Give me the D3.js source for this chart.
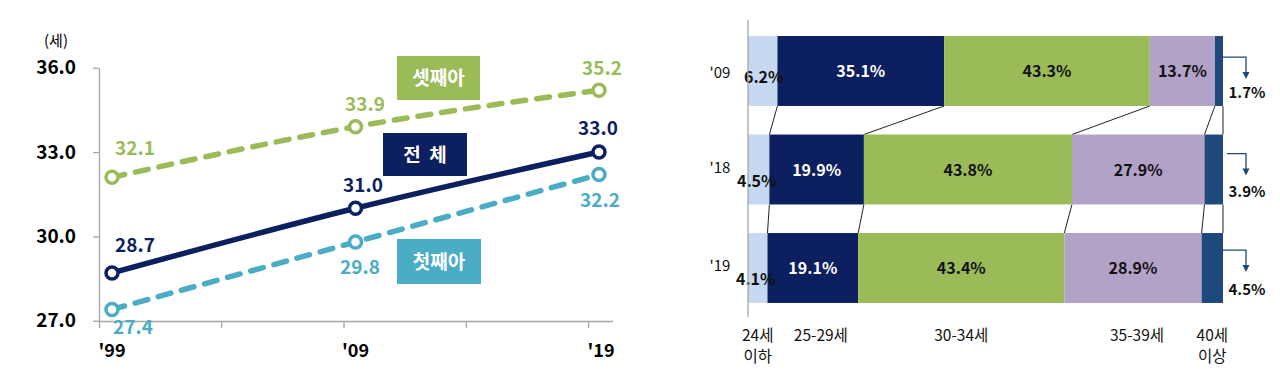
<!DOCTYPE html>
<html><head><meta charset="utf-8">
<script src="https://cdn.jsdelivr.net/npm/d3@7"></script>
<style>
body{margin:0;background:#fff;}
svg{display:block;font-family:"Noto Sans CJK KR","Noto Sans",sans-serif;}
</style></head>
<body>
<svg id="c" width="1280" height="385"></svg>
<script>
// ---- Left chart data ----
const years = [1999, 2009, 2019];
const yearLabels = ["'99", "'09", "'19"];
const totalAge = [28.7, 31.0, 33.0];
const firstAge = [27.4, 29.8, 32.2];
const thirdAge = [32.1, 33.9, 35.2];
const yTicks = [27, 30, 33, 36];
const seriesNames = ["전 체", "첫째아", "셋째아"];

// ---- Right chart data ----
const barYears = ["'09", "'18", "'19"];
const ageGroups = ["24세\n이하", "25-29세", "30-34세", "35-39세", "40세\n이상"];
const share09 = [6.2, 35.1, 43.3, 13.7, 1.7];
const share18 = [4.5, 19.9, 43.8, 27.9, 3.9];
const share19 = [4.1, 19.1, 43.4, 28.9, 4.5];

const svg = d3.select("#c");
const NAVY = "#0c1f5e", GREEN = "#9bbb59", CYAN = "#4bacc6";

// ================= LEFT =================
const x = d3.scaleLinear().domain([1999, 2019]).range([112, 599]);
const xTick = d3.scaleLinear().domain([0, 4.2]).range([99, 612.5]);
const y = d3.scaleLinear().domain([27, 36]).range([320.7, 67.7]);

const gy = svg.append("g").attr("transform", "translate(99,0)")
  .call(d3.axisLeft(y).tickValues(yTicks).tickFormat(d3.format(".1f")).tickSize(6).tickSizeOuter(0).tickPadding(17));
gy.select(".domain").attr("stroke", "#a6a6a6").attr("stroke-width", 1.3);
gy.selectAll(".tick line").attr("stroke", "#a6a6a6").attr("stroke-width", 1.3);
gy.selectAll(".tick text").attr("font-size", 19).attr("font-weight", "bold").attr("fill", "#000")
  .attr("font-family", '"Noto Sans CJK KR",sans-serif');

const gx = svg.append("g").attr("transform", "translate(0,321)")
  .call(d3.axisBottom(xTick).tickValues([0, 1, 2, 3, 4]).tickFormat("").tickSize(7).tickSizeOuter(0));
gx.select(".domain").attr("stroke", "#a6a6a6").attr("stroke-width", 1.3);
gx.selectAll(".tick line").attr("stroke", "#a6a6a6").attr("stroke-width", 1.3);

svg.append("g").selectAll("text").data(years).join("text")
  .attr("x", (d, i) => x(d) + (i === 2 ? 2 : 0)).attr("y", 357)
  .attr("text-anchor", "middle").attr("font-size", 18).attr("font-weight", "bold")
  .text((d, i) => yearLabels[i]);

svg.append("text").attr("x", 56).attr("y", 46).attr("text-anchor", "middle")
  .attr("font-size", 15).text("(세)");

const series = [
  {vals: thirdAge, color: GREEN, dash: "13,11", lab: [[135, 155], [365, 111], [602, 75]]},
  {vals: firstAge, color: CYAN, dash: "13,11", lab: [[133, 334], [360, 274], [600, 207]]},
  {vals: totalAge, color: NAVY, dash: null, lab: [[135, 252], [363, 192], [598, 135]]}
];
const line = d3.line().x(d => x(d[0])).y(d => y(d[1])).curve(d3.curveMonotoneX);
series.forEach(s => {
  const pts = years.map((yr, i) => [yr, s.vals[i]]);
  svg.append("path").attr("d", line(pts)).attr("fill", "none")
    .attr("stroke", s.color).attr("stroke-width", 5.5).attr("stroke-linecap", s.dash ? "round" : "butt")
    .attr("stroke-dasharray", s.dash);
  svg.append("g").selectAll("circle").data(pts).join("circle")
    .attr("cx", d => x(d[0])).attr("cy", d => y(d[1])).attr("r", 6)
    .attr("fill", "#fff").attr("stroke", s.color).attr("stroke-width", 3.5);
  svg.append("g").selectAll("text").data(s.vals).join("text")
    .attr("x", (d, i) => s.lab[i][0]).attr("y", (d, i) => s.lab[i][1])
    .attr("text-anchor", "middle").attr("font-size", 19).attr("font-weight", "bold")
    .attr("fill", s.color).text(d => d.toFixed(1));
});

// label boxes
const boxes = [
  {name: seriesNames[2], color: GREEN, x0: 397, y0: 56, w: 83, h: 44},
  {name: seriesNames[0], color: NAVY, x0: 383, y0: 133, w: 84, h: 43},
  {name: seriesNames[1], color: CYAN, x0: 397, y0: 239, w: 84, h: 45}
];
boxes.forEach(b => {
  svg.append("rect").attr("x", b.x0).attr("y", b.y0).attr("width", b.w).attr("height", b.h).attr("fill", b.color);
  svg.append("text").attr("x", b.x0 + b.w / 2).attr("y", b.y0 + b.h / 2 + 7)
    .attr("text-anchor", "middle").attr("font-size", 19).attr("font-weight", "bold")
    .attr("fill", "#fff").attr("xml:space", "preserve").text(b.name === "전 체" ? "전  체" : b.name);
});

// ================= RIGHT =================
const shares = [share09, share18, share19];
const segColors = ["#c6d9f1", "#0c1f5e", "#9bbb59", "#b3a2c7", "#1f497d"];
const xb = d3.scaleLinear().domain([0, 100]).range([748, 1223]);
const yb = d3.scaleBand().domain(barYears).range([21.75, 317.25]).paddingInner(0.29).paddingOuter(0.145);
const bw = yb.bandwidth();

const rows = shares.map((arr, r) => {
  let c = 0;
  return arr.map((v, i) => { const s = {year: barYears[r], i, v, x0: c, x1: c + v}; c += v; return s; });
});

// connectors
for (let r = 0; r < rows.length - 1; r++) {
  rows[r].forEach((seg, i) => {
    svg.append("line")
      .attr("x1", xb(seg.x1)).attr("y1", yb(barYears[r]) + bw)
      .attr("x2", xb(rows[r + 1][i].x1)).attr("y2", yb(barYears[r + 1]))
      .attr("stroke", "#222").attr("stroke-width", 1);
  });
}

rows.forEach((row, r) => {
  const yr = barYears[r];
  const top = yb(yr);
  svg.append("g").selectAll("rect").data(row).join("rect")
    .attr("x", d => xb(d.x0)).attr("y", top).attr("width", d => xb(d.x1) - xb(d.x0)).attr("height", bw)
    .attr("fill", d => segColors[d.i]);
  // inner labels
  svg.append("g").selectAll("text").data(row.slice(1, 4)).join("text")
    .attr("x", d => (xb(d.x0) + xb(d.x1)) / 2).attr("y", top + bw / 2 + 6)
    .attr("text-anchor", "middle").attr("font-size", 16).attr("font-weight", "bold")
    .attr("fill", d => d.i === 1 ? "#fff" : "#111").text(d => d.v.toFixed(1) + "%");
  // first segment label
  const f = row[0];
  svg.append("text").attr("x", (xb(f.x0) + xb(f.x1)) / 2 + (r === 0 ? 1 : -2))
    .attr("y", top + bw / 2 + 17 + (r === 0 ? -5 : 0))
    .attr("text-anchor", "middle").attr("font-size", 16).attr("font-weight", "bold").attr("fill", "#111")
    .text(f.v.toFixed(1) + "%");
  // year label
  svg.append("text").attr("x", 720).attr("y", top + bw / 2 + (r === 0 ? 7 : 3))
    .attr("text-anchor", "middle").attr("font-size", 15).attr("fill", "#111").text(yr);
  // last segment arrow + label
  const l = row[4];
  const ay = top + 21 - r * 2;
  const ax = xb(l.x1) + (r === 1 ? 4 : 0);
  const tx = 1246;
  svg.append("path").attr("d", `M${ax},${ay}H${tx}V${ay + 18}`).attr("fill", "none")
    .attr("stroke", "#1f497d").attr("stroke-width", 1.3);
  svg.append("path").attr("d", `M${tx - 3.5},${ay + 15}L${tx + 3.5},${ay + 15}L${tx},${ay + 22}Z`).attr("fill", "#1f497d");
  svg.append("text").attr("x", tx + 1).attr("y", top + 62)
    .attr("text-anchor", "middle").attr("font-size", 15).attr("font-weight", "bold").attr("fill", "#111")
    .text(l.v.toFixed(1) + "%");
});

// left axis of bar chart
svg.append("line").attr("x1", 748).attr("x2", 748).attr("y1", 20).attr("y2", 317)
  .attr("stroke", "#a6a6a6").attr("stroke-width", 1.3);

// bottom category labels (centered on '19 segments)
const catX = rows[2].map(d => (xb(d.x0) + xb(d.x1)) / 2);
const catAdj = [0, 8, 0, 4, 0];
ageGroups.forEach((g, i) => {
  const t = svg.append("text").attr("text-anchor", "middle").attr("font-size", 15.5).attr("fill", "#111");
  g.split("\n").forEach((ln, k) => {
    t.append("tspan").attr("x", catX[i] + catAdj[i]).attr("y", 341 + k * 21).text(ln);
  });
});
</script>
</body></html>
